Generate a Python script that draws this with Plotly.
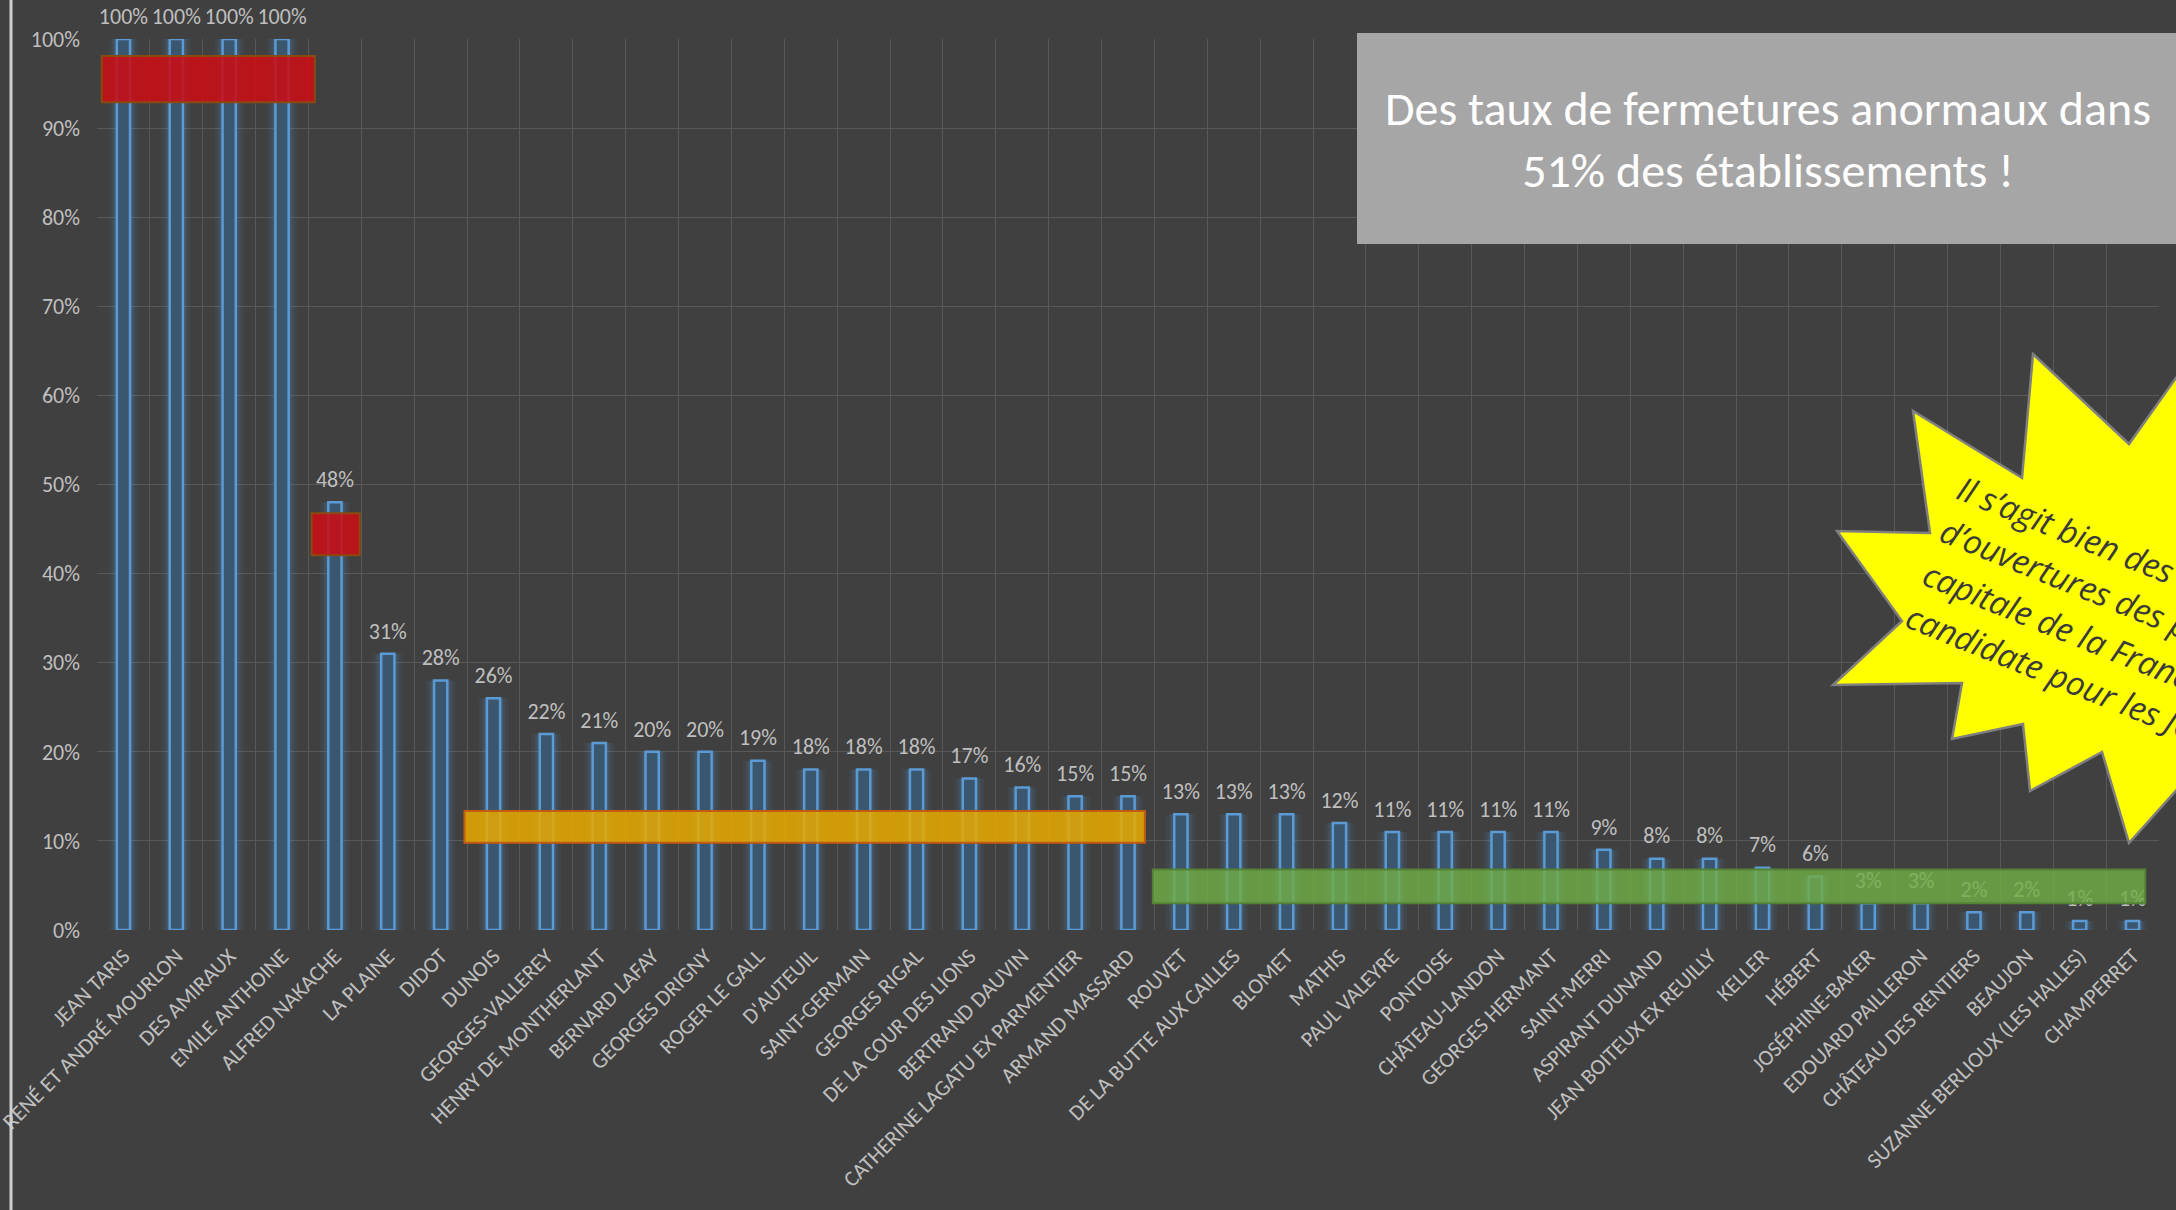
import math
import plotly.graph_objects as go

# ---------------- data ----------------
pools = [
    "JEAN TARIS", "RENÉ ET ANDRÉ MOURLON", "DES AMIRAUX", "EMILE ANTHOINE",
    "ALFRED NAKACHE", "LA PLAINE", "DIDOT", "DUNOIS", "GEORGES-VALLEREY",
    "HENRY DE MONTHERLANT", "BERNARD LAFAY", "GEORGES DRIGNY", "ROGER LE GALL",
    "D'AUTEUIL", "SAINT-GERMAIN", "GEORGES RIGAL", "DE LA COUR DES LIONS",
    "BERTRAND DAUVIN", "CATHERINE LAGATU EX PARMENTIER", "ARMAND MASSARD",
    "ROUVET", "DE LA BUTTE AUX CAILLES", "BLOMET", "MATHIS", "PAUL VALEYRE",
    "PONTOISE", "CHÂTEAU-LANDON", "GEORGES HERMANT", "SAINT-MERRI",
    "ASPIRANT DUNAND", "JEAN BOITEUX EX REUILLY", "KELLER", "HÉBERT",
    "JOSÉPHINE-BAKER", "EDOUARD PAILLERON", "CHÂTEAU DES RENTIERS", "BEAUJON",
    "SUZANNE BERLIOUX (LES HALLES)", "CHAMPERRET",
]
closure_rate = [
    100, 100, 100, 100, 48, 31, 28, 26, 22, 21, 20, 20, 19, 18, 18, 18, 17, 16,
    15, 15, 13, 13, 13, 12, 11, 11, 11, 11, 9, 8, 8, 7, 6, 3, 3, 2, 2, 1, 1,
]
y_ticks = [0, 10, 20, 30, 40, 50, 60, 70, 80, 90, 100]
y_tick_labels = [f"{v}%" for v in y_ticks]

box_text = "Des taux de fermetures anormaux dans<br>51% des établissements !"
star_lines = [
    "Il s’agit bien des taux",
    "d’ouvertures des piscines de la",
    "capitale de la France",
    "candidate pour les JO 2024 !",
]

# ---------------- layout geometry ----------------
W, H = 2176, 1210
ML, MR, MT, MB = 97, 17, 39, 280
PW, PH = W - ML - MR, H - MT - MB

def pxx(px):
    return (px - ML) / PW

def pxy(py):
    return (H - MB - py) / PH

BG = "#404040"
GRID = "#595959"
TXT = "#bfbfbf"
FONT = "Calibri, Carlito, Lato, sans-serif"

fig = go.Figure()

# glow layers
for w, a in [(0.56, 0.07), (0.44, 0.10), (0.36, 0.13)]:
    fig.add_trace(go.Bar(
        x=pools, y=closure_rate, width=w,
        marker=dict(color=f"rgba(91,155,213,{a})", line=dict(width=0)),
        hoverinfo="skip", showlegend=False,
    ))

# main bars
fig.add_trace(go.Bar(
    x=pools, y=closure_rate, width=0.25,
    marker=dict(color="#3b5770", line=dict(color="#5b9bd5", width=2.5)),
    showlegend=False,
))

# data labels
fig.add_trace(go.Scatter(
    x=pools, y=closure_rate, mode="markers+text",
    marker=dict(size=14, color="rgba(0,0,0,0)"),
    text=[f"{v}%" for v in closure_rate], textposition="top center",
    textfont=dict(family=FONT, size=22, color=TXT),
    cliponaxis=False, hoverinfo="skip", showlegend=False,
))

shapes = []

def hbox(x0, x1, y0, y1, fill, line):
    return dict(type="rect", xref="x", yref="y", x0=x0, x1=x1, y0=y0, y1=y1,
                fillcolor=fill, line=dict(color=line, width=2), layer="above")

shapes.append(hbox(-0.41, 3.62, 92.9, 98.1, "rgba(200,14,20,0.88)", "#8a4a10"))
shapes.append(hbox(3.56, 4.47, 42.05, 46.77, "rgba(200,14,20,0.88)", "#8a4a10"))
shapes.append(hbox(6.45, 19.32, 9.8, 13.36, "rgba(230,170,0,0.86)", "#c55a11"))
shapes.append(hbox(19.47, 38.24, 3.0, 6.8, "rgba(112,173,71,0.82)", "#548235"))

# grey text box
shapes.append(dict(type="rect", xref="paper", yref="paper",
                   x0=pxx(1357), x1=pxx(2230), y0=pxy(244), y1=pxy(33),
                   fillcolor="#a6a6a6", line=dict(width=0), layer="above"))

# star burst
star_pts = [
    (2033, 354), (2129, 444), (2200, 344), (2320, 344), (2320, 780),
    (2200, 764), (2129, 843), (2102, 752), (2030, 791), (2023, 724),
    (1952, 739), (1962, 683), (1833, 685), (1902, 621), (1837, 531),
    (1930, 533), (1913, 411), (2022, 478),
]
path = "M " + " L ".join(f"{pxx(a):.5f},{pxy(b):.5f}" for a, b in star_pts) + " Z"
shapes.append(dict(type="path", xref="paper", yref="paper", path=path,
                   fillcolor="#ffff00", line=dict(color="#7f7f7f", width=2.5),
                   layer="above"))

# left light edge line
shapes.append(dict(type="line", xref="paper", yref="paper",
                   x0=pxx(11), x1=pxx(11), y0=pxy(0), y1=pxy(H),
                   line=dict(color="#cfcfcf", width=3), layer="above"))

annotations = [dict(
    text=box_text, xref="paper", yref="paper", x=pxx(1768), y=pxy(139),
    xanchor="center", yanchor="middle", showarrow=False,
    font=dict(family=FONT, size=48, color="#ffffff"), align="center",
)]

# star text, one annotation per line (left aligned along rotated frame)
th = math.radians(22)
base = (1953, 494)
step = 46
for i, line in enumerate(star_lines):
    bx = base[0] - i * step * math.sin(th)
    by = base[1] + i * step * math.cos(th)
    X = bx - 4.6
    Y = by - 31
    annotations.append(dict(
        text=line, xref="paper", yref="paper", x=pxx(X), y=pxy(Y),
        xanchor="left", yanchor="top", showarrow=False, textangle=22,
        font=dict(family="Open Sans, sans-serif", size=33, color="#3a3a3a",
                  style="italic"),
        align="left",
    ))

fig.update_layout(
    width=W, height=H,
    margin=dict(l=ML, r=MR, t=MT, b=MB, pad=0),
    paper_bgcolor=BG, plot_bgcolor=BG,
    barmode="overlay",
    template="none",
    shapes=shapes, annotations=annotations,
    font=dict(family=FONT, color=TXT),
)
fig.update_xaxes(
    type="category", tickson="boundaries", showgrid=True, gridcolor=GRID,
    gridwidth=1.3, tickangle=-45, ticks="", ticklen=0, ticklabelstandoff=8,
    tickfont=dict(family=FONT, size=22, color=TXT),
    showline=False, zeroline=False, automargin=False,
    range=[-0.5, len(pools) - 0.5],
)
fig.update_yaxes(
    range=[0, 100], tickmode="array", tickvals=y_ticks, ticktext=y_tick_labels,
    showgrid=True, gridcolor=GRID, gridwidth=1.3, zeroline=False,
    showline=False, tickfont=dict(family=FONT, size=22, color=TXT), ticks="",
    ticklabelstandoff=16, automargin=False,
)

fig.write_html(
    "out.html",
    config={"displayModeBar": False},
    post_script="document.body.style.margin='0';document.body.style.overflow='hidden';",
)
